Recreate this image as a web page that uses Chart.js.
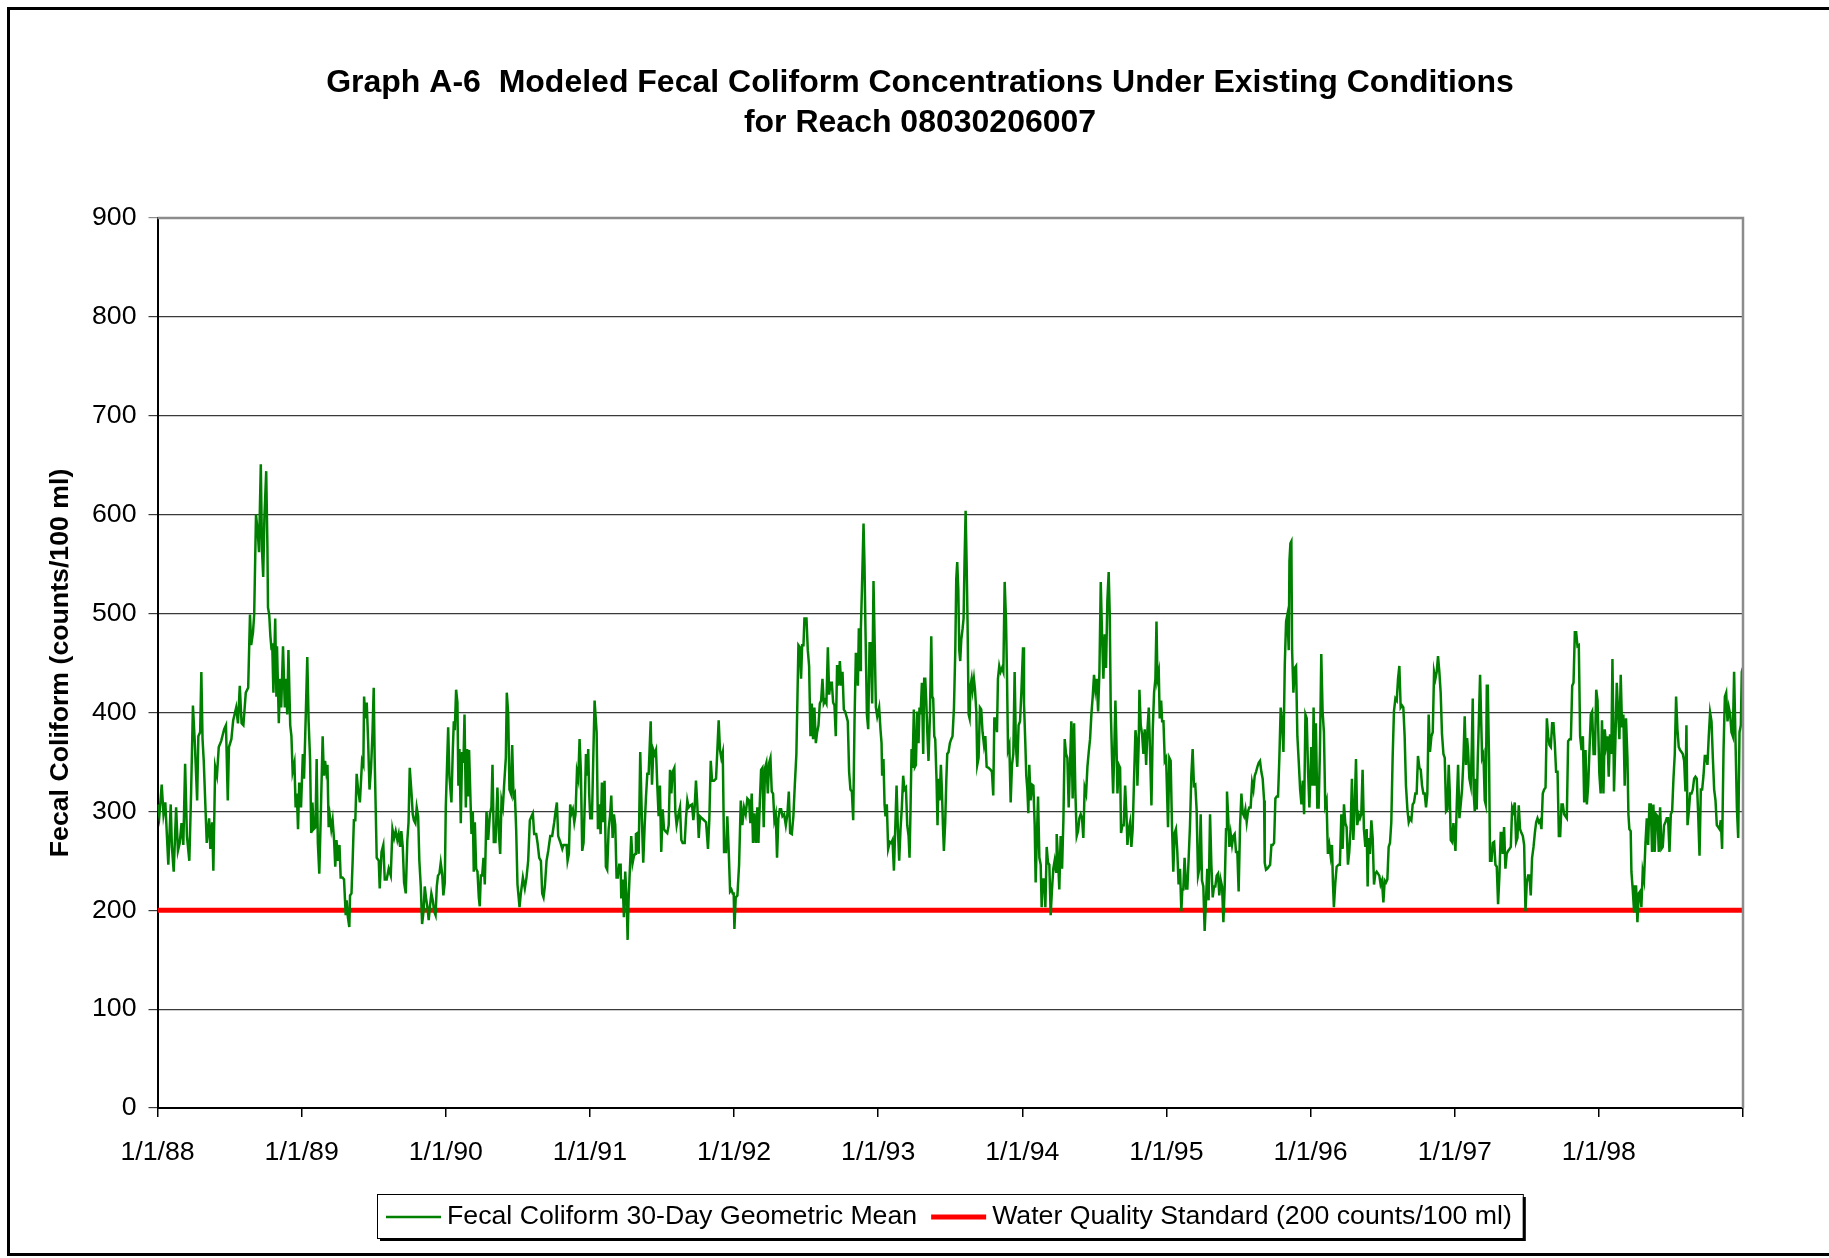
<!DOCTYPE html>
<html>
<head>
<meta charset="utf-8">
<title>Graph A-6 Fecal Coliform</title>
<script src="https://cdn.jsdelivr.net/npm/chart.js@4.4.1/dist/chart.umd.min.js"></script>
<style>
  html, body { margin: 0; padding: 0; background: #fff; }
  canvas { display: block; }
</style>
</head>
<body>
<canvas id="chart1" width="1829" height="1258"></canvas>
<script>
// x axis: one tick per 1 January, last tick (1/1/99) has no label
const TICK_LABELS = ["1/1/88", "1/1/89", "1/1/90", "1/1/91", "1/1/92", "1/1/93",
  "1/1/94", "1/1/95", "1/1/96", "1/1/97", "1/1/98"];

const TITLE_LINES = [
  "Graph A-6  Modeled Fecal Coliform Concentrations Under Existing Conditions",
  "for Reach 08030206007",
];

// 30-day geometric mean, per year: [month of year, counts/100 ml]
const fc1988 = [[0.0,307],[0.15,295],[0.35,327],[0.5,297],[0.65,309],[0.9,246],[1.1,307],[1.2,264],[1.35,239],[1.55,304],[1.7,260],[1.85,268],[2.0,288],[2.15,266],[2.3,348],[2.45,275],[2.65,250],[2.8,320],[2.95,407],[3.1,371],[3.3,311],[3.4,376],[3.55,380],[3.65,441],[3.75,373],[3.85,351],[4.1,268],[4.3,293],[4.4,262],[4.55,289],[4.65,240],[4.8,345],[4.95,336],[5.1,365],[5.3,371],[5.55,383],[5.7,387],[5.85,311],[5.95,365],[6.15,373],[6.3,392],[6.55,405],[6.7,389],[6.85,427],[7.0,389],[7.15,387],[7.35,420],[7.55,425],[7.7,499],[7.8,468],[7.95,481],[8.05,499],[8.2,600],[8.35,582],[8.45,562],[8.6,651],[8.7,564],[8.8,537],[8.9,597],[9.05,644],[9.15,568],[9.2,506],[9.3,499],[9.4,477],[9.5,463],[9.55,470],[9.65,420],[9.8,495],[9.9,416],[9.95,467],[10.1,389],[10.2,434],[10.3,405],[10.45,467],[10.6,405],[10.7,434],[10.8,398],[10.9,463],[11.05,387],[11.15,376],[11.25,340],[11.4,349],[11.5,304],[11.6,318],[11.7,282],[11.8,329],[11.95,304]];
const fc1989 = [[0.1,358],[0.2,333],[0.35,400],[0.47,456],[0.58,391],[0.7,354],[0.8,278],[0.9,309],[1.0,282],[1.15,284],[1.25,353],[1.35,268],[1.47,237],[1.58,289],[1.75,376],[1.85,336],[1.95,351],[2.05,340],[2.15,347],[2.25,284],[2.35,295],[2.47,282],[2.58,291],[2.7,271],[2.8,244],[2.9,271],[3.03,250],[3.15,266],[3.25,233],[3.4,233],[3.53,231],[3.67,195],[3.75,210],[3.85,193],[3.97,183],[4.03,215],[4.15,217],[4.25,251],[4.35,291],[4.47,291],[4.58,338],[4.7,322],[4.85,309],[5.03,351],[5.14,347],[5.2,416],[5.3,394],[5.42,410],[5.53,373],[5.65,322],[5.78,344],[5.9,380],[6.0,425],[6.08,354],[6.25,253],[6.42,250],[6.5,222],[6.65,259],[6.8,266],[6.92,231],[7.08,231],[7.25,242],[7.42,235],[7.56,282],[7.7,273],[7.83,280],[7.97,271],[8.08,277],[8.2,264],[8.3,280],[8.42,264],[8.53,228],[8.67,217],[8.8,271],[8.9,289],[9.0,344],[9.15,318],[9.25,297],[9.35,291],[9.47,288],[9.58,304],[9.7,295],[9.8,250],[9.92,224],[10.03,186],[10.15,199],[10.25,224],[10.35,213],[10.47,203],[10.58,190],[10.7,206],[10.8,217],[10.92,210],[11.03,199],[11.15,195],[11.25,224],[11.35,235],[11.47,237],[11.58,248],[11.7,237],[11.8,215],[11.92,228]];
const fc1990 = [[0.0,304],[0.1,344],[0.2,385],[0.3,336],[0.47,309],[0.58,360],[0.67,391],[0.75,382],[0.86,423],[0.97,410],[1.05,326],[1.14,363],[1.25,288],[1.36,360],[1.47,349],[1.56,398],[1.67,304],[1.78,363],[1.86,315],[1.94,362],[2.06,311],[2.14,277],[2.25,300],[2.33,239],[2.42,289],[2.53,242],[2.64,239],[2.75,213],[2.83,204],[2.92,235],[3.03,235],[3.14,253],[3.25,226],[3.39,300],[3.53,271],[3.67,297],[3.8,304],[3.89,347],[4.0,269],[4.14,269],[4.3,324],[4.42,278],[4.53,257],[4.64,311],[4.75,304],[4.86,327],[5.0,354],[5.08,420],[5.2,398],[5.3,322],[5.42,318],[5.53,367],[5.64,315],[5.75,318],[5.86,282],[5.97,226],[6.14,203],[6.25,217],[6.42,233],[6.58,222],[6.72,233],[6.86,250],[7.0,291],[7.14,295],[7.25,298],[7.36,277],[7.53,277],[7.64,268],[7.78,253],[7.92,250],[8.03,217],[8.14,213],[8.25,224],[8.39,250],[8.53,260],[8.7,275],[8.86,275],[9.03,289],[9.14,300],[9.25,309],[9.36,275],[9.53,269],[9.7,262],[9.8,266],[9.92,266],[10.06,266],[10.14,250],[10.25,257],[10.36,307],[10.47,298],[10.58,302],[10.7,289],[10.8,297],[10.92,340],[11.03,333],[11.14,373],[11.25,340],[11.36,260],[11.47,268],[11.58,311],[11.67,358],[11.78,336],[11.86,363],[11.94,318]];
const fc1991 = [[0.03,293],[0.17,293],[0.28,354],[0.39,412],[0.56,380],[0.67,282],[0.78,307],[0.89,277],[1.0,329],[1.11,289],[1.22,331],[1.33,244],[1.44,241],[1.56,282],[1.67,295],[1.78,316],[1.89,273],[2.0,297],[2.11,286],[2.22,233],[2.33,233],[2.44,246],[2.56,246],[2.61,212],[2.72,231],[2.83,193],[2.94,239],[3.06,210],[3.14,170],[3.22,210],[3.36,251],[3.44,275],[3.56,248],[3.67,255],[3.78,257],[3.83,277],[3.94,278],[4.06,257],[4.19,360],[4.33,291],[4.44,248],[4.56,286],[4.67,315],[4.78,338],[4.89,338],[4.97,363],[5.06,391],[5.17,327],[5.28,362],[5.39,358],[5.5,362],[5.61,326],[5.72,295],[5.83,326],[5.94,259],[6.06,302],[6.17,282],[6.28,280],[6.44,278],[6.56,286],[6.67,342],[6.78,318],[6.89,340],[7.03,344],[7.11,300],[7.22,286],[7.39,298],[7.5,304],[7.61,271],[7.72,268],[7.89,268],[8.0,293],[8.11,311],[8.22,304],[8.36,306],[8.5,307],[8.61,291],[8.72,304],[8.83,331],[8.94,307],[9.06,273],[9.17,295],[9.33,293],[9.5,291],[9.67,289],[9.83,262],[9.94,291],[10.06,351],[10.17,331],[10.33,331],[10.5,333],[10.61,362],[10.72,392],[10.83,362],[10.94,354],[11.06,360],[11.17,259],[11.33,259],[11.44,295],[11.56,259],[11.67,219],[11.78,221],[11.89,217],[11.97,217]];
const fc1992 = [[0.03,181],[0.14,213],[0.28,215],[0.42,246],[0.56,311],[0.69,286],[0.83,304],[0.97,297],[1.11,313],[1.25,311],[1.36,288],[1.47,318],[1.58,268],[1.69,298],[1.81,268],[1.94,304],[2.03,268],[2.14,307],[2.25,342],[2.36,344],[2.47,284],[2.58,344],[2.69,349],[2.81,318],[2.92,349],[3.03,354],[3.14,320],[3.25,318],[3.36,291],[3.47,297],[3.58,253],[3.69,293],[3.81,302],[3.92,302],[4.03,295],[4.17,297],[4.31,286],[4.44,297],[4.56,320],[4.67,278],[4.81,277],[4.94,295],[5.06,327],[5.19,358],[5.28,416],[5.36,468],[5.47,466],[5.58,434],[5.67,468],[5.78,468],[5.86,495],[6.03,495],[6.14,463],[6.25,447],[6.36,376],[6.47,409],[6.58,373],[6.69,405],[6.81,369],[6.92,380],[7.03,387],[7.14,409],[7.25,412],[7.36,434],[7.47,409],[7.58,412],[7.69,409],[7.81,466],[7.92,418],[8.03,430],[8.14,430],[8.25,410],[8.36,407],[8.47,376],[8.58,448],[8.69,427],[8.81,452],[8.92,427],[9.03,441],[9.14,403],[9.25,401],[9.36,396],[9.47,391],[9.58,340],[9.69,322],[9.81,320],[9.92,291],[10.03,391],[10.14,459],[10.22,459],[10.31,427],[10.39,485],[10.5,443],[10.56,485],[10.64,521],[10.78,591],[10.86,550],[10.94,485],[11.06,398],[11.17,383],[11.28,470],[11.39,470],[11.5,409],[11.61,533],[11.72,463],[11.81,405],[11.92,396]];
const fc1993 = [[0.08,405],[0.19,383],[0.28,369],[0.33,336],[0.44,353],[0.53,307],[0.61,295],[0.72,307],[0.83,262],[0.97,269],[1.08,268],[1.19,271],[1.31,240],[1.42,282],[1.53,326],[1.64,282],[1.75,250],[1.86,282],[1.97,304],[2.08,336],[2.19,322],[2.31,324],[2.42,286],[2.53,275],[2.61,253],[2.69,300],[2.78,363],[2.86,344],[2.97,403],[3.06,345],[3.14,347],[3.25,401],[3.36,369],[3.44,405],[3.53,398],[3.64,430],[3.75,358],[3.83,434],[3.92,434],[4.0,412],[4.08,383],[4.19,351],[4.31,398],[4.42,477],[4.5,416],[4.58,414],[4.67,376],[4.75,373],[4.86,331],[4.94,286],[5.03,333],[5.11,311],[5.22,347],[5.31,320],[5.39,286],[5.47,260],[5.58,289],[5.67,331],[5.75,358],[5.86,360],[5.97,369],[6.08,373],[6.19,376],[6.31,405],[6.42,463],[6.5,535],[6.58,552],[6.67,524],[6.75,463],[6.83,452],[6.92,474],[7.03,485],[7.11,495],[7.19,553],[7.28,604],[7.36,553],[7.44,492],[7.53,398],[7.61,394],[7.69,427],[7.78,434],[7.86,423],[7.97,434],[8.06,423],[8.17,401],[8.25,347],[8.36,354],[8.47,405],[8.58,403],[8.69,380],[8.81,367],[8.92,376],[9.03,345],[9.19,344],[9.36,342],[9.47,340],[9.58,316],[9.67,394],[9.78,394],[9.89,380],[9.97,434],[10.08,447],[10.19,441],[10.31,445],[10.42,441],[10.53,532],[10.64,495],[10.72,441],[10.81,362],[10.92,367],[11.03,309],[11.14,347],[11.25,358],[11.36,441],[11.47,365],[11.58,345],[11.69,387],[11.81,391],[11.92,420]];
const fc1994 = [[0.06,466],[0.14,409],[0.25,369],[0.33,336],[0.42,322],[0.5,298],[0.58,347],[0.69,311],[0.81,327],[0.92,326],[1.03,286],[1.11,228],[1.19,264],[1.31,315],[1.42,253],[1.53,246],[1.61,203],[1.69,231],[1.81,231],[1.92,203],[2.03,264],[2.14,248],[2.25,246],[2.36,195],[2.47,221],[2.58,242],[2.69,250],[2.81,239],[2.86,277],[2.97,253],[3.08,221],[3.19,275],[3.31,242],[3.42,291],[3.53,373],[3.64,358],[3.75,354],[3.86,304],[3.97,347],[4.08,391],[4.19,313],[4.31,389],[4.42,318],[4.53,275],[4.64,280],[4.75,293],[4.86,297],[4.97,293],[5.08,273],[5.19,324],[5.31,318],[5.42,345],[5.53,360],[5.64,373],[5.75,398],[5.86,416],[5.97,438],[6.08,423],[6.19,434],[6.31,401],[6.42,441],[6.53,532],[6.64,477],[6.75,434],[6.86,479],[6.97,445],[7.08,513],[7.19,542],[7.28,499],[7.36,405],[7.47,354],[7.56,318],[7.64,354],[7.75,412],[7.83,373],[7.92,318],[8.03,347],[8.14,344],[8.22,278],[8.33,286],[8.44,286],[8.56,326],[8.67,297],[8.75,266],[8.86,282],[8.97,289],[9.08,264],[9.19,282],[9.31,336],[9.42,382],[9.53,369],[9.58,326],[9.69,369],[9.75,423],[9.86,387],[9.97,378],[10.08,358],[10.19,383],[10.31,347],[10.42,383],[10.53,405],[10.64,358],[10.75,306],[10.86,383],[10.97,420],[11.08,434],[11.17,492],[11.25,434],[11.36,441],[11.44,394],[11.56,412],[11.64,391],[11.75,391],[11.86,351],[11.97,354]];
const fc1995 = [[0.0,354],[0.13,284],[0.24,354],[0.35,351],[0.46,286],[0.57,239],[0.68,278],[0.79,282],[0.9,260],[1.01,226],[1.13,242],[1.24,199],[1.32,221],[1.4,221],[1.51,253],[1.63,222],[1.74,222],[1.85,253],[1.96,286],[2.07,336],[2.18,363],[2.29,326],[2.4,327],[2.51,302],[2.63,235],[2.74,242],[2.85,297],[2.96,230],[3.07,224],[3.18,179],[3.29,210],[3.4,242],[3.51,210],[3.63,297],[3.74,246],[3.85,213],[3.96,224],[4.07,224],[4.18,235],[4.29,237],[4.4,215],[4.51,231],[4.63,224],[4.74,188],[4.85,224],[4.96,282],[5.04,320],[5.13,297],[5.24,264],[5.35,277],[5.46,266],[5.57,275],[5.68,277],[5.79,259],[5.9,259],[6.01,219],[6.13,286],[6.24,318],[6.35,298],[6.46,295],[6.57,302],[6.68,289],[6.79,300],[6.9,304],[7.01,304],[7.13,329],[7.24,322],[7.35,336],[7.46,340],[7.57,345],[7.68,349],[7.79,351],[7.9,340],[8.01,333],[8.13,311],[8.18,248],[8.29,241],[8.4,242],[8.51,244],[8.63,246],[8.74,266],[8.85,266],[8.96,268],[9.07,313],[9.18,315],[9.29,315],[9.4,354],[9.51,405],[9.63,389],[9.74,360],[9.85,448],[9.96,492],[10.07,499],[10.18,463],[10.24,553],[10.32,571],[10.4,573],[10.46,463],[10.57,420],[10.68,445],[10.79,447],[10.9,376],[11.01,351],[11.13,322],[11.24,307],[11.35,331],[11.46,297],[11.57,398],[11.68,394],[11.79,340],[11.9,304]];
const fc1996 = [[0.06,365],[0.17,326],[0.25,405],[0.33,326],[0.44,389],[0.56,304],[0.67,304],[0.78,362],[0.89,459],[1.0,401],[1.11,380],[1.22,306],[1.33,311],[1.44,257],[1.56,266],[1.67,255],[1.78,266],[1.86,228],[1.94,203],[2.06,228],[2.17,244],[2.33,246],[2.44,246],[2.56,297],[2.67,262],[2.78,307],[2.89,288],[3.0,284],[3.11,246],[3.22,259],[3.33,282],[3.44,333],[3.56,271],[3.67,304],[3.78,353],[3.89,286],[4.0,297],[4.11,293],[4.22,297],[4.33,342],[4.44,282],[4.56,264],[4.67,282],[4.75,224],[4.83,273],[4.94,257],[5.06,291],[5.17,273],[5.28,226],[5.39,237],[5.5,239],[5.61,237],[5.72,235],[5.83,226],[5.94,230],[6.06,208],[6.17,230],[6.28,228],[6.39,231],[6.5,264],[6.61,268],[6.72,289],[6.83,354],[6.94,401],[7.06,414],[7.17,412],[7.28,434],[7.39,447],[7.5,405],[7.61,407],[7.72,405],[7.83,376],[7.94,326],[8.06,302],[8.17,289],[8.28,293],[8.39,291],[8.5,307],[8.61,309],[8.72,318],[8.83,318],[8.94,356],[9.06,344],[9.17,342],[9.28,326],[9.39,318],[9.5,318],[9.61,304],[9.72,318],[9.83,398],[9.94,360],[10.06,376],[10.17,380],[10.28,441],[10.39,434],[10.5,441],[10.61,457],[10.72,441],[10.83,420],[10.94,378],[11.06,358],[11.17,354],[11.28,300],[11.39,302],[11.5,347],[11.58,322],[11.67,271],[11.78,269],[11.89,288]];
const fc1997 = [[0.06,260],[0.17,307],[0.28,347],[0.39,293],[0.5,307],[0.61,322],[0.72,351],[0.83,396],[0.94,347],[1.03,374],[1.11,362],[1.22,333],[1.33,326],[1.42,365],[1.5,414],[1.58,318],[1.67,300],[1.75,333],[1.83,302],[1.92,354],[2.0,387],[2.11,438],[2.19,398],[2.28,354],[2.39,358],[2.5,311],[2.58,307],[2.67,427],[2.75,427],[2.86,351],[2.94,250],[3.06,250],[3.17,268],[3.28,269],[3.39,246],[3.5,244],[3.61,206],[3.72,235],[3.83,278],[3.94,278],[4.0,257],[4.11,284],[4.22,242],[4.33,257],[4.44,260],[4.56,262],[4.67,264],[4.78,304],[4.89,300],[5.0,309],[5.11,269],[5.22,273],[5.33,306],[5.44,282],[5.56,278],[5.67,275],[5.78,266],[5.89,199],[6.0,228],[6.11,235],[6.22,235],[6.33,215],[6.44,253],[6.56,264],[6.67,278],[6.78,289],[6.89,293],[7.0,289],[7.11,291],[7.22,282],[7.33,318],[7.44,322],[7.56,324],[7.67,394],[7.78,376],[7.89,367],[8.0,365],[8.11,389],[8.22,389],[8.33,369],[8.44,340],[8.56,340],[8.67,275],[8.78,275],[8.89,307],[9.0,307],[9.11,297],[9.22,295],[9.33,293],[9.44,371],[9.56,373],[9.67,373],[9.78,427],[9.89,430],[10.0,481],[10.11,481],[10.22,467],[10.33,468],[10.44,376],[10.56,362],[10.67,376],[10.78,309],[10.89,362],[11.0,307],[11.11,326],[11.22,362],[11.33,398],[11.44,401],[11.56,358],[11.67,358],[11.78,423],[11.89,412]];
const fc1998 = [[0.04,338],[0.15,318],[0.26,392],[0.38,318],[0.49,383],[0.6,367],[0.71,376],[0.82,335],[0.93,378],[1.04,358],[1.13,454],[1.21,380],[1.26,320],[1.38,373],[1.49,430],[1.6,401],[1.71,373],[1.82,438],[1.93,385],[2.04,398],[2.15,326],[2.26,394],[2.38,354],[2.46,297],[2.54,282],[2.65,280],[2.71,239],[2.82,221],[2.93,199],[2.99,224],[3.1,224],[3.21,188],[3.32,217],[3.43,219],[3.54,203],[3.65,239],[3.76,231],[3.88,268],[3.99,293],[4.1,266],[4.21,307],[4.32,307],[4.43,259],[4.54,307],[4.65,259],[4.76,297],[4.88,295],[4.99,259],[5.1,304],[5.21,262],[5.32,264],[5.43,286],[5.54,289],[5.65,293],[5.76,293],[5.88,259],[5.99,297],[6.1,300],[6.21,333],[6.32,358],[6.43,416],[6.54,383],[6.65,365],[6.76,362],[6.88,360],[6.99,358],[7.1,351],[7.21,320],[7.29,387],[7.38,286],[7.49,300],[7.6,318],[7.71,318],[7.82,322],[7.93,333],[8.04,335],[8.15,333],[8.26,300],[8.38,255],[8.49,322],[8.6,322],[8.71,336],[8.82,356],[8.93,356],[9.04,347],[9.15,376],[9.26,400],[9.38,391],[9.49,354],[9.6,322],[9.71,311],[9.82,286],[9.93,284],[10.04,282],[10.15,291],[10.26,262],[10.38,362],[10.49,416],[10.6,420],[10.71,391],[10.82,405],[10.93,398],[11.04,380],[11.15,376],[11.26,441],[11.38,369],[11.49,304],[11.6,273],[11.71,380],[11.82,387],[11.9,441],[11.99,445]];

const YEARLY = [fc1988, fc1989, fc1990, fc1991, fc1992, fc1993, fc1994, fc1995, fc1996, fc1997, fc1998];

// water quality standard, counts/100 ml
const STANDARD = 200;
const Y_MAX = 900;
const X_YEARS = 11;

const FONT = '"Liberation Sans", Arial, Helvetica, sans-serif';
const TEXT_SIZE = 26.7;
Chart.defaults.font.family = FONT;
Chart.defaults.color = "#000";

// x = years since 1/1/88
const fecalPoints = [];
YEARLY.forEach((rows, i) => {
  rows.forEach(([month, value]) => fecalPoints.push({ x: i + month / 12, y: value }));
});

// outer frame, plot border, title and the boxed legend
const decorations = {
  id: "decorations",
  beforeDraw(chart) {
    const ctx = chart.ctx;
    ctx.save();
    ctx.fillStyle = "#fff";
    ctx.fillRect(0, 0, chart.width, chart.height);
    ctx.restore();
  },
  afterDraw(chart) {
    const { ctx, chartArea } = chart;
    ctx.save();

    // frame (open on the right, as in the source image)
    ctx.strokeStyle = "#000";
    ctx.lineWidth = 3;
    ctx.beginPath();
    ctx.moveTo(chart.width + 5, 8.5);
    ctx.lineTo(8.5, 8.5);
    ctx.lineTo(8.5, 1254.5);
    ctx.lineTo(chart.width + 5, 1254.5);
    ctx.stroke();

    // grey plot-area border top and right
    ctx.strokeStyle = "#8c8c8c";
    ctx.lineWidth = 2.5;
    ctx.beginPath();
    ctx.moveTo(chartArea.left, chartArea.top);
    ctx.lineTo(chartArea.right, chartArea.top);
    ctx.lineTo(chartArea.right, chartArea.bottom);
    ctx.stroke();

    // title
    ctx.fillStyle = "#000";
    ctx.font = "bold 32px " + FONT;
    ctx.textAlign = "center";
    ctx.textBaseline = "middle";
    ctx.fillText(TITLE_LINES[0], 920, 83);
    ctx.fillText(TITLE_LINES[1], 920, 123);

    // legend
    ctx.font = TEXT_SIZE + "px " + FONT;
    const sample = 55, gap = 6, between = 14, padL = 9, padR = 11;
    const items = chart.data.datasets.map((ds) => ({
      label: ds.label, color: ds.borderColor, lw: ds.borderWidth,
      tw: ctx.measureText(ds.label).width,
    }));
    let w = padL + padR;
    items.forEach((it, i) => { w += sample + gap + it.tw + (i ? between : 0); });
    const top = 1194, h = 44;
    const left = Math.round(950 - w / 2);
    ctx.fillStyle = "#000";
    ctx.fillRect(left + 3, top + 3, w, h);
    ctx.fillStyle = "#fff";
    ctx.fillRect(left, top, w, h);
    ctx.strokeStyle = "#000";
    ctx.lineWidth = 1;
    ctx.strokeRect(left + 0.5, top + 0.5, w, h);

    let x = left + padL;
    const cy = top + h / 2 + 1;
    items.forEach((it, i) => {
      if (i) x += between;
      ctx.strokeStyle = it.color;
      ctx.lineWidth = it.lw;
      ctx.beginPath();
      ctx.moveTo(x, cy);
      ctx.lineTo(x + sample, cy);
      ctx.stroke();
      x += sample + gap;
      ctx.fillStyle = "#000";
      ctx.textAlign = "left";
      ctx.fillText(it.label, x, cy);
      x += it.tw;
    });

    ctx.restore();
  },
};

new Chart(document.getElementById("chart1"), {
  type: "line",
  data: {
    datasets: [
      {
        label: "Fecal Coliform 30-Day Geometric Mean",
        data: fecalPoints,
        borderColor: "#008000",
        borderWidth: 2.5,
        pointRadius: 0,
        tension: 0,
      },
      {
        label: "Water Quality Standard (200 counts/100 ml)",
        data: [{ x: 0, y: STANDARD }, { x: X_YEARS, y: STANDARD }],
        borderColor: "#ff0000",
        borderWidth: 5,
        pointRadius: 0,
      },
    ],
  },
  options: {
    responsive: false,
    animation: false,
    devicePixelRatio: 1,
    layout: { padding: { left: 0, right: 86, top: 218, bottom: 0 } },
    plugins: {
      legend: { display: false },
      title: { display: false },
      tooltip: { enabled: false },
    },
    scales: {
      x: {
        type: "linear",
        min: 0,
        max: X_YEARS,
        afterFit(scale) { scale.height = 150; },
        grid: {
          drawOnChartArea: false,
          drawTicks: true,
          tickLength: 9,
          color: "#000",
          lineWidth: 1.5,
        },
        border: { color: "#000", width: 2 },
        ticks: {
          stepSize: 1,
          autoSkip: false,
          maxRotation: 0,
          padding: 20,
          font: { size: TEXT_SIZE },
          color: "#000",
          callback: (v) => TICK_LABELS[v] || "",
        },
      },
      y: {
        min: 0,
        max: Y_MAX,
        afterFit(scale) { scale.width = 157.5; },
        grid: {
          color: (c) => (c.tick && c.tick.value === Y_MAX ? "#8c8c8c" : "#3a3a3a"),
          lineWidth: 1.2,
          tickLength: 9,
        },
        border: { color: "#000", width: 2 },
        ticks: {
          stepSize: 100,
          padding: 12,
          font: { size: TEXT_SIZE },
          color: "#000",
        },
        title: {
          display: true,
          text: "Fecal Coliform (counts/100 ml)",
          font: { size: TEXT_SIZE, weight: "bold" },
          color: "#000",
          padding: { top: 45, bottom: 0 },
        },
      },
    },
  },
  plugins: [decorations],
});
</script>
</body>
</html>
